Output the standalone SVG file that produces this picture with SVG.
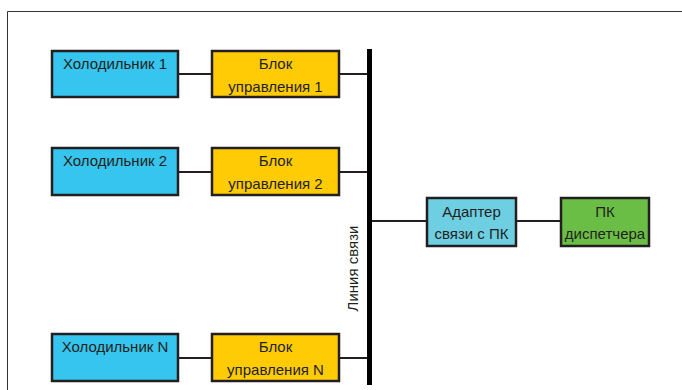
<svg xmlns="http://www.w3.org/2000/svg" width="682" height="390" viewBox="0 0 682 390">
<style>
.box{stroke:#231F20;stroke-width:2.5}
.fr{fill:#35C5EE}
.bl{fill:#FFCB05}
.ad{fill:#6ECEE2}
.pc{fill:#6BBE45}
text{font-family:"Liberation Sans",Arial,sans-serif;font-size:15px;fill:#231F20;text-anchor:middle}
.c{stroke:#231F20;stroke-width:2;fill:none}
</style>
<rect width="682" height="390" fill="#fff"/>
<path d="M7.5 390V11.5H682" fill="none" stroke="#333" stroke-width="1"/>
<g id="connectors">
<line class="c" x1="178" y1="74" x2="212" y2="74"/>
<line class="c" x1="339" y1="74" x2="369" y2="74"/>
<line class="c" x1="178" y1="172" x2="212" y2="172"/>
<line class="c" x1="339" y1="172" x2="369" y2="172"/>
<line class="c" x1="178" y1="358" x2="212" y2="358"/>
<line class="c" x1="339" y1="358" x2="369" y2="358"/>
<line class="c" x1="369" y1="221" x2="427" y2="221"/>
<line class="c" x1="516" y1="221" x2="561" y2="221"/>
</g>
<g id="bus">
<line x1="369.5" y1="49" x2="369.5" y2="385" stroke="#000" stroke-width="5"/>
<text transform="translate(357.5 268.5) rotate(-90)" font-size="14.5">Линия связи</text>
</g>
<g id="fridge1"><rect class="box fr" x="52" y="51" width="126" height="46"/><text x="115" y="69">Холодильник 1</text></g>
<g id="ctrl1"><rect class="box bl" x="212" y="51" width="127" height="46"/><text x="275.5" y="69">Блок</text><text x="275.5" y="92">управления 1</text></g>
<g id="fridge2"><rect class="box fr" x="52" y="148" width="126" height="47"/><text x="115" y="166">Холодильник 2</text></g>
<g id="ctrl2"><rect class="box bl" x="212" y="148" width="127" height="47"/><text x="275.5" y="166">Блок</text><text x="275.5" y="189">управления 2</text></g>
<g id="fridgeN"><rect class="box fr" x="52" y="334" width="126" height="47"/><text x="115" y="352">Холодильник N</text></g>
<g id="ctrlN"><rect class="box bl" x="212" y="334" width="127" height="47"/><text x="275.5" y="352">Блок</text><text x="275.5" y="375">управления N</text></g>
<g id="adapter"><rect class="box ad" x="427" y="198" width="89" height="48"/><text x="471.5" y="217">Адаптер</text><text x="471.5" y="239">связи с ПК</text></g>
<g id="pc"><rect class="box pc" x="561" y="198" width="88" height="48"/><text x="605" y="217">ПК</text><text x="605" y="239" font-size="14">диспетчера</text></g>
</svg>
